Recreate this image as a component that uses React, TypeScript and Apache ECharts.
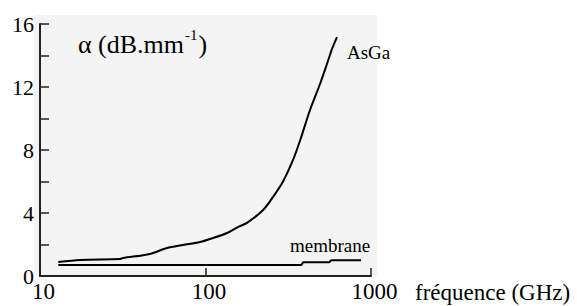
import React, { useEffect, useRef } from "react";
import * as echarts from "echarts";

const xTicks = [10, 100, 1000];
const yTicks = [0, 4, 8, 12, 16];
const asgaFreq = [12.9, 17.5, 30.4, 31.7, 46.2, 58.5, 73.1, 92.6, 111, 135, 157, 178, 223, 256, 294, 338, 372, 428, 492, 542, 581, 623];
const asgaAlpha = [0.89, 1.02, 1.08, 1.14, 1.4, 1.78, 1.97, 2.16, 2.41, 2.73, 3.11, 3.37, 4.19, 5.02, 6.0, 7.37, 8.57, 10.54, 12.19, 13.46, 14.41, 15.17];
const membFreq = [12.9, 380, 390, 560, 575, 870];
const membAlpha = [0.7, 0.7, 0.88, 0.88, 1.0, 1.0];
const seriesNames = ["AsGa", "membrane"];

const FONT = "Liberation Serif";

export default function App() {
  const ref = useRef<HTMLDivElement>(null);
  useEffect(() => {
    if (!ref.current) return;
    const chart = echarts.init(ref.current, null, { renderer: "svg" });
    const asga = asgaFreq.map((f, i) => [f, asgaAlpha[i]]);
    const memb = membFreq.map((f, i) => [f, membAlpha[i]]);
    chart.setOption({
      animation: false,
      backgroundColor: "#ffffff",
      textStyle: { fontFamily: FONT },
      grid: { left: 40, right: 206, top: 24, bottom: 30 },
      xAxis: {
        type: "log",
        logBase: 10,
        min: xTicks[0],
        max: xTicks[xTicks.length - 1],
        axisLine: { lineStyle: { color: "#222", width: 2 } },
        axisTick: { inside: true, length: 8, lineStyle: { color: "#222", width: 1.5 } },
        minorTick: { show: false },
        splitLine: { show: false },
        axisLabel: {
          color: "#000",
          fontFamily: FONT,
          fontSize: 23,
          margin: 4,
          padding: [0, 0, 0, 7],
          formatter: (v: number) => (xTicks.includes(Math.round(v)) ? String(Math.round(v)) : ""),
        },
      },
      yAxis: {
        type: "value",
        min: 0,
        max: 16,
        interval: 2,
        axisLine: { show: true, lineStyle: { color: "#222", width: 2 } },
        axisTick: { inside: true, length: 9, lineStyle: { color: "#222", width: 1.5 } },
        splitLine: { show: false },
        axisLabel: {
          color: "#000",
          fontFamily: FONT,
          fontSize: 22,
          margin: 6,
          padding: [0, 0, 4, 0],
          formatter: (v: number) => (yTicks.includes(v) ? String(v) : ""),
        },
      },
      graphic: [
        {
          type: "rect",
          z: -10,
          silent: true,
          shape: { x: 34, y: 15, width: 343, height: 260 },
          style: { fill: "#f4f4f4" },
        },
        {
          type: "text",
          x: 78,
          y: 42,
          style: {
            text: "{b|α (dB.mm}{s|-1}{b|)}",
            fill: "#000",
            fontFamily: FONT,
            verticalAlign: "middle",
            rich: {
              b: { fontFamily: FONT, fontSize: 26, lineHeight: 30, fill: "#000", verticalAlign: "bottom" },
              s: { fontFamily: FONT, fontSize: 15, lineHeight: 30, fill: "#000", verticalAlign: "top", padding: [0, 1, 0, 1] },
            },
          },
        },
        {
          type: "text",
          x: 347,
          y: 52,
          style: { text: seriesNames[0], fontFamily: FONT, fontSize: 19, fill: "#000", verticalAlign: "middle" },
        },
        {
          type: "text",
          x: 290,
          y: 245,
          style: { text: seriesNames[1], fontFamily: FONT, fontSize: 19, fill: "#000", verticalAlign: "middle" },
        },
        {
          type: "text",
          x: 415,
          y: 292,
          style: { text: "fréquence (GHz)", fontFamily: FONT, fontSize: 23, fill: "#000", verticalAlign: "middle" },
        },
      ],
      series: [
        {
          name: seriesNames[0],
          type: "line",
          data: asga,
          showSymbol: false,
          smooth: 0.3,
          lineStyle: { color: "#000", width: 2 },
        },
        {
          name: seriesNames[1],
          type: "line",
          data: memb,
          showSymbol: false,
          lineStyle: { color: "#000", width: 2 },
        },
      ],
    });
    return () => chart.dispose();
  }, []);
  return <div ref={ref} style={{ width: 577, height: 306, position: "absolute", left: 0, top: 0 }} />;
}
